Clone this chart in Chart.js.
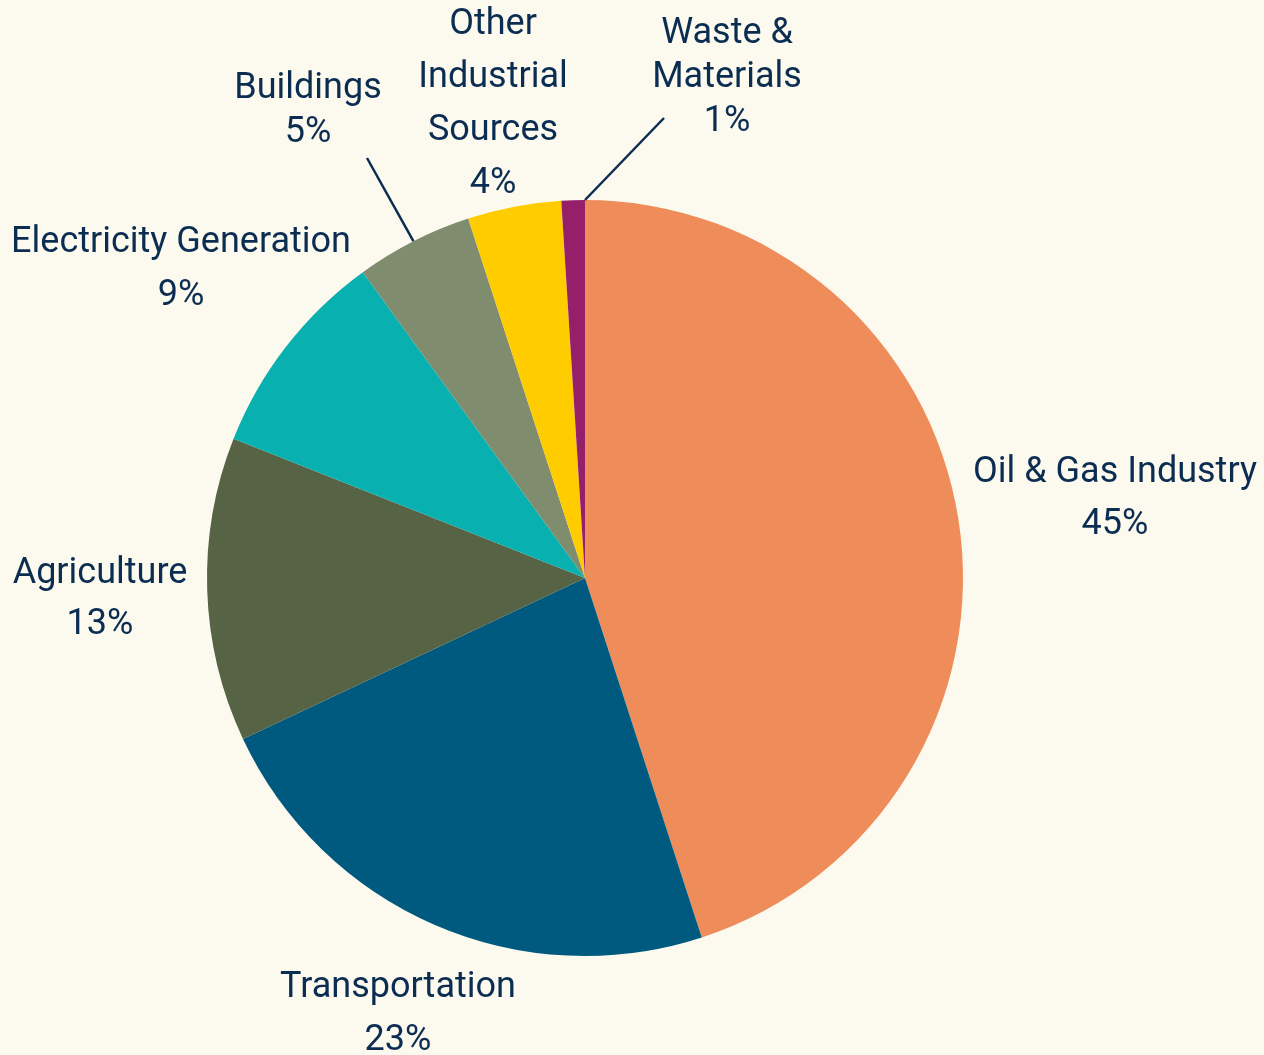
<!DOCTYPE html>
<html>
<head>
<meta charset="utf-8">
<script src="https://cdn.jsdelivr.net/npm/chart.js@4.4.1/dist/chart.umd.min.js"></script>
<style>
  html, body { margin: 0; padding: 0; background: #fcf9ee; }
  #wrap { width: 1264px; height: 1055px; position: relative; }
</style>
</head>
<body>
<div id="wrap"><canvas id="pie"></canvas></div>
<script>
// sectors, clockwise from 12 o'clock
const categories = ['Oil & Gas Industry', 'Transportation', 'Agriculture', 'Electricity Generation', 'Buildings', 'Other Industrial Sources', 'Waste & Materials'];
const shares = [45, 23, 13, 9, 5, 4, 1];
const colors = ['#ee8d5a', '#005a80', '#566445', '#08b0b0', '#7f8c6d', '#ffcc00', '#961f6a'];

// how each label is broken into lines (last line is the percent)
const labelLines = [
  ['Oil & Gas Industry'],
  ['Transportation'],
  ['Agriculture'],
  ['Electricity Generation'],
  ['Buildings'],
  ['Other', 'Industrial', 'Sources'],
  ['Waste &', 'Materials']
];

// label layout: centre x, first baseline, line step
const labelPos = [
  { x: 1115, y: 482, step: 52 },
  { x: 398, y: 997, step: 53 },
  { x: 100, y: 583, step: 51 },
  { x: 181, y: 252, step: 53 },
  { x: 308, y: 98, step: 44 },
  { x: 493, y: 34, step: 53 },
  { x: 727, y: 43, step: 44 }
];

// leader lines: which slice, where on its rim (0 = start, 0.5 = middle, 1 = end), end point
const leaders = [
  { i: 4, at: 0.5, x: 367, y: 158 },
  { i: 6, at: 1, x: 664, y: 118 }
];

const ink = '#0b2d52';

const labelPlugin = {
  id: 'sliceLabels',
  afterDraw(chart) {
    const ctx = chart.ctx;
    const arcs = chart.getDatasetMeta(0).data;
    ctx.save();
    ctx.strokeStyle = ink;
    ctx.lineWidth = 2.5;
    leaders.forEach(l => {
      const a = arcs[l.i];
      const ang = a.startAngle + (a.endAngle - a.startAngle) * l.at;
      ctx.beginPath();
      ctx.moveTo(a.x + Math.cos(ang) * a.outerRadius, a.y + Math.sin(ang) * a.outerRadius);
      ctx.lineTo(l.x, l.y);
      ctx.stroke();
    });
    ctx.fillStyle = ink;
    ctx.font = '36px Roboto, "Noto Sans", sans-serif';
    ctx.textAlign = 'center';
    ctx.textBaseline = 'alphabetic';
    labelLines.forEach((lines, i) => {
      const p = labelPos[i];
      const all = lines.concat([shares[i] + '%']);
      all.forEach((t, k) => ctx.fillText(t, p.x, p.y + k * p.step));
    });
    ctx.restore();
  }
};

new Chart(document.getElementById('pie'), {
  type: 'pie',
  data: {
    labels: categories,
    datasets: [{
      data: shares,
      backgroundColor: colors,
      borderWidth: 0
    }]
  },
  options: {
    responsive: true,
    maintainAspectRatio: false,
    animation: false,
    layout: { padding: { left: 207, right: 301, top: 200, bottom: 99 } },
    plugins: {
      legend: { display: false },
      tooltip: { enabled: false }
    }
  },
  plugins: [labelPlugin]
});
</script>
</body>
</html>
